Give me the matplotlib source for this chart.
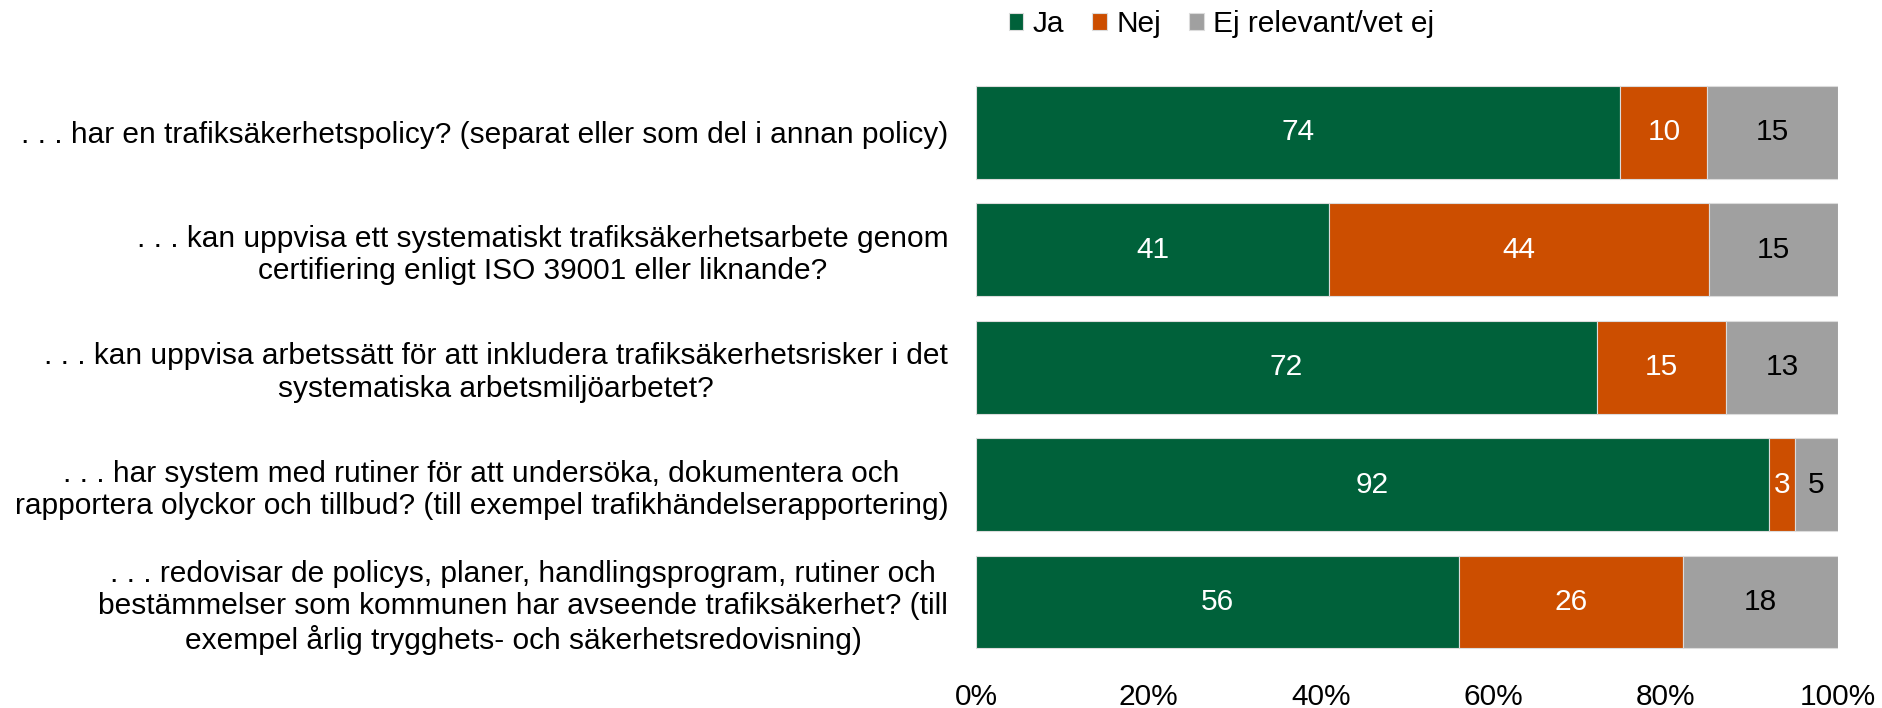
import matplotlib.pyplot as plt
import numpy as np

plt.rcParams['font.family'] = ['Liberation Sans', 'DejaVu Sans']

categories = [
    ". . . har en trafiksäkerhetspolicy? (separat eller som del i annan policy)",
    ". . . kan uppvisa ett systematiskt trafiksäkerhetsarbete genom\ncertifiering enligt ISO 39001 eller liknande?",
    ". . . kan uppvisa arbetssätt för att inkludera trafiksäkerhetsrisker i det\nsystematiska arbetsmiljöarbetet?",
    ". . . har system med rutiner för att undersöka, dokumentera och\nrapportera olyckor och tillbud? (till exempel trafikhändelserapportering)",
    ". . . redovisar de policys, planer, handlingsprogram, rutiner och\nbestämmelser som kommunen har avseende trafiksäkerhet? (till\nexempel årlig trygghets- och säkerhetsredovisning)",
]
ja = [74, 41, 72, 92, 56]
nej = [10, 44, 15, 3, 26]
ej = [15, 15, 13, 5, 18]
series_names = ["Ja", "Nej", "Ej relevant/vet ej"]
colors = ["#00613A", "#CC4E00", "#A0A0A0"]
text_colors = ["white", "white", "black"]

data = np.array([ja, nej, ej], dtype=float)
shares = data / data.sum(axis=0) * 100  # rad 1 summerar till 99

fs = 21.5

fig = plt.figure(figsize=(18.82, 7.08), dpi=100)
ax = fig.add_axes([0.5186, 0.0668, 0.458, 0.829])

y = np.arange(len(categories))
left = np.zeros(len(categories))
for i in range(3):
    bars = ax.barh(y, shares[i], left=left, height=0.79, color=colors[i],
                   edgecolor='#dcdcdc', linewidth=0.8, label=series_names[i])
    for j, b in enumerate(bars):
        ax.text(left[j] + shares[i][j] / 2, y[j], f"{int(data[i][j])}",
                ha='center', va='center', fontsize=fs, color=text_colors[i])
    left += shares[i]

ax.set_xlim(0, 100)
ax.set_ylim(len(categories) - 0.5, -0.5)
ax.set_yticks(y)
ax.set_yticklabels(categories, fontsize=fs, multialignment='center',
                   linespacing=1.2)
ax.set_xticks(np.arange(0, 101, 20))
ax.set_xticklabels([f"{v}%" for v in range(0, 101, 20)], fontsize=fs)
ax.tick_params(axis='both', length=0)
ax.tick_params(axis='y', pad=20)
ax.tick_params(axis='x', pad=16)
for s in ax.spines.values():
    s.set_visible(False)

fig.legend(loc='center', bbox_to_anchor=(0.649, 0.966), ncol=3, frameon=False,
           fontsize=fs, handlelength=0.5, handleheight=0.5, handletextpad=0.3,
           columnspacing=0.95)

fig.savefig("out.png", dpi=100)
